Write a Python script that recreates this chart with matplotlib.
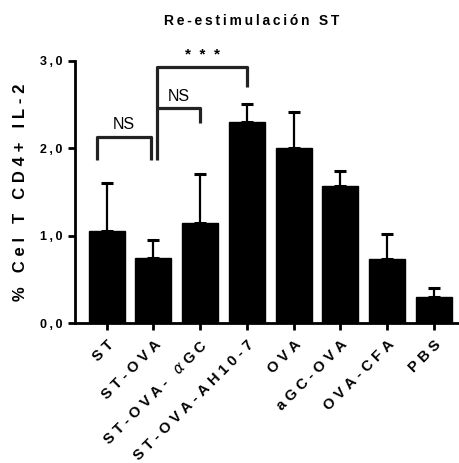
import matplotlib
matplotlib.use("Agg")
import matplotlib.pyplot as plt
from matplotlib.transforms import ScaledTranslation

categories = ["ST", "ST-OVA", "ST-OVA- $\\alpha$GC", "ST-OVA-AH10-7", "OVA", "aGC-OVA", "OVA-CFA", "PBS"]
means = [1.05, 0.74, 1.15, 2.30, 2.00, 1.57, 0.73, 0.30]
errors = [0.55, 0.21, 0.55, 0.21, 0.41, 0.17, 0.29, 0.10]
yticks = [0.0, 1.0, 2.0, 3.0]
ytick_labels = ["0,0", "1,0", "2,0", "3,0"]

plt.rcParams['font.family'] = ['Liberation Sans', 'DejaVu Sans']
plt.rcParams['mathtext.fontset'] = 'dejavusans'

TH = '\u2009'
HA = '\u200a'


def spaced(s, sep=TH):
    i = 0
    tokens = []
    while i < len(s):
        if s[i] == '$':
            j = s.index('$', i + 1)
            tokens.append(s[i:j + 1])
            i = j + 1
        else:
            tokens.append(s[i])
            i += 1
    return sep.join(tokens)


fig = plt.figure(figsize=(4.6, 4.63), dpi=100)
ax = fig.add_axes([0.163, 0.302, 0.837, 0.567])
x = list(range(len(categories)))
ax.bar(x, means, width=0.77, color='black', edgecolor='black')
ax.errorbar(x, means, yerr=[[0] * len(errors), errors], fmt='none', ecolor='black',
            elinewidth=1.6, capsize=4, capthick=2.2)
ax.set_xlim(-0.68, 7.56)
ax.set_ylim(0, 3.0)
ax.set_yticks(yticks)
ax.set_yticklabels([spaced(t, TH) for t in ytick_labels], fontsize=9, fontweight='bold')
ax.set_xticks(x)
ax.set_xticklabels([spaced(c, TH + HA) for c in categories], rotation=45, ha='right',
                   rotation_mode='anchor', fontsize=10.7, fontweight='bold')
off = ScaledTranslation(5 / 100, 0, fig.dpi_scale_trans)
for lab in ax.get_xticklabels():
    lab.set_transform(lab.get_transform() + off)
for s in ['top', 'right']:
    ax.spines[s].set_visible(False)
for s in ['left', 'bottom']:
    ax.spines[s].set_linewidth(2)
ax.tick_params(axis='both', width=2, length=5, direction='out')
ax.tick_params(axis='x', pad=5.5)
ax.tick_params(axis='y', pad=4)
ax.set_ylabel(spaced("% Cel T CD4+ IL-2", TH + HA), fontsize=12, fontweight='bold')
ax.yaxis.set_label_coords(-0.122, 0.5)
fig.text(0.546, 0.946, spaced("Re-estimulación ST", TH), ha='center', va='baseline',
         fontsize=10, fontweight='bold')

lw = 2.3
c = '#222222'
# NS bracket ST vs ST-OVA
ax.plot([-0.2, -0.2, 0.94, 0.94], [1.86, 2.13, 2.13, 1.86], color=c, lw=lw, clip_on=False, solid_capstyle='butt')
ax.text(0.37, 2.19, "NS", ha='center', va='bottom', fontsize=11.5)
# *** bracket
ax.plot([1.08, 1.08, 3.0, 3.0], [1.86, 2.93, 2.93, 2.70], color=c, lw=lw, clip_on=False, solid_capstyle='butt')
ax.text(2.05, 2.99, "*  *  *", ha='center', va='bottom', fontsize=11, fontweight='bold')
# NS bracket ST-OVA vs ST-OVA-aGC
ax.plot([1.08, 2.0, 2.0], [2.46, 2.46, 2.29], color=c, lw=lw, clip_on=False, solid_capstyle='butt')
ax.text(1.55, 2.51, "NS", ha='center', va='bottom', fontsize=11.5)

fig.savefig("out.png", dpi=100)
